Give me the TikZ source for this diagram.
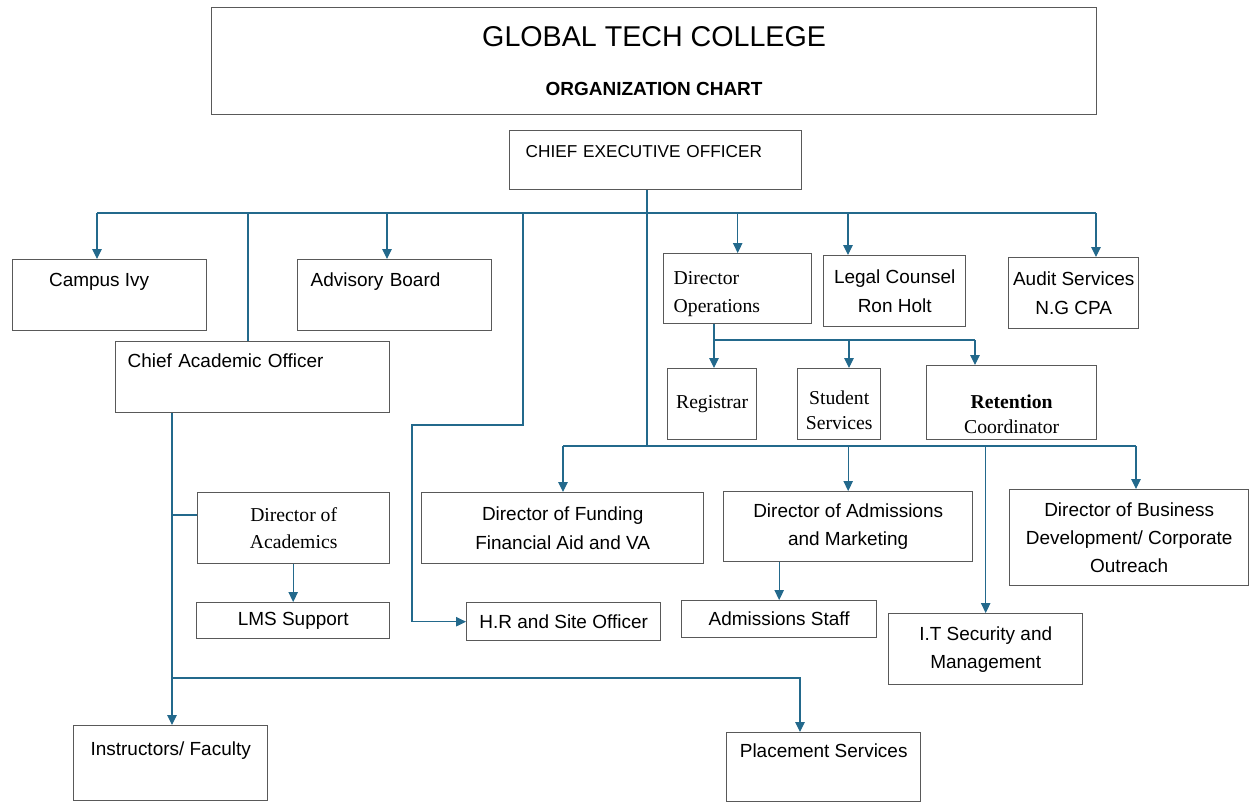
\documentclass[tikz,border=0pt]{standalone}
\usepackage{fontspec}
\setmainfont{Liberation Sans}
\newfontfamily\timesfont{Liberation Serif}
\usetikzlibrary{arrows.meta}

\definecolor{linkblue}{RGB}{35,105,140}

\tikzset{
  box/.style={draw=black!65, line width=0.8pt, rectangle, anchor=north west,
    inner sep=0pt, align=center, font=\fontsize{10.8}{16}\selectfont},
  serifbox/.style={box, font=\timesfont\fontsize{11.2}{15.5}\selectfont},
  link/.style={draw=linkblue, line width=0.6pt},
  arr/.style={link, -{Triangle[length=2mm,width=1.9mm]}},
}

\begin{document}
\begin{tikzpicture}[x=0.02cm,y=-0.02cm]
  \useasboundingbox (0,0) rectangle (1254,802);

  % header
  \node[box, minimum width=17.7cm, minimum height=2.14cm] (title) at (211,7)
    {{\fontsize{16.3}{20}\selectfont GLOBAL TECH COLLEGE}\\[12pt]\textbf{ORGANIZATION CHART}};
  \node[box, minimum width=5.84cm, text width=5.2cm, align=left, text height=0.54cm, text depth=0.64cm,
    font=\fontsize{9.8}{14}\selectfont] (ceo) at (509,130) {CHIEF EXECUTIVE OFFICER};

  % first row
  \node[box, minimum width=3.88cm, text height=0.54cm, text depth=0.88cm] (campus) at (12,259) {Campus Ivy\hspace{12pt}};
  \node[box, minimum width=3.88cm, text width=3.36cm, align=left, text height=0.54cm, text depth=0.88cm] (advisory) at (297,259) {Advisory Board};
  \node[box, minimum width=5.48cm, text width=5.0cm, align=left, text height=0.52cm, text depth=0.9cm] (cao) at (115,341) {Chief Academic Officer};
  \node[serifbox, minimum width=2.96cm, minimum height=1.4cm, text width=2.56cm, align=left] (dirops) at (663,253) {\rule{0pt}{13.5pt}Director\\Operations};
  \node[box, minimum width=2.84cm, minimum height=1.42cm] (legal) at (823,255) {Legal Counsel\\Ron Holt};
  \node[box, minimum width=2.6cm, minimum height=1.42cm] (audit) at (1008,257) {Audit Services\\N.G CPA};

  % under operations
  \node[serifbox, minimum width=1.78cm, minimum height=1.42cm] (registrar) at (667,368) {Registrar};
  \node[serifbox, minimum width=1.66cm, minimum height=1.42cm, font=\timesfont\fontsize{11.2}{14.2}\selectfont] (stusvc) at (797,368) {\rule{0pt}{15pt}Student\\Services};
  \node[serifbox, minimum width=3.4cm, minimum height=1.48cm, font=\timesfont\fontsize{11.2}{14.2}\selectfont] (retention) at (926,365) {\rule{0pt}{21pt}\textbf{Retention}\\Coordinator};

  % second row
  \node[serifbox, minimum width=3.84cm, minimum height=1.42cm] (dirac) at (197,492) {Director of\\Academics};
  \node[box, minimum width=5.64cm, minimum height=1.42cm] (funding) at (421,492) {Director of Funding\\Financial Aid and VA};
  \node[box, minimum width=4.98cm, minimum height=1.4cm] (admdir) at (723,491) {Director of Admissions\\and Marketing};
  \node[box, minimum width=4.78cm, minimum height=1.92cm] (busdev) at (1009,489) {Director of Business\\Development/ Corporate\\Outreach};

  % third row
  \node[box, minimum width=3.86cm, minimum height=0.72cm] (lms) at (196,602) {LMS Support};
  \node[box, minimum width=3.88cm, minimum height=0.76cm] (hr) at (466,602) {H.R and Site Officer};
  \node[box, minimum width=3.9cm, minimum height=0.74cm] (admstaff) at (681,600) {Admissions Staff};
  \node[box, minimum width=3.88cm, minimum height=1.42cm] (itsec) at (888,613) {I.T Security and\\Management};

  % bottom row
  \node[box, minimum width=3.88cm, text height=0.6cm, text depth=0.9cm] (faculty) at (73,725) {Instructors/ Faculty};
  \node[box, minimum width=3.88cm, text height=0.5cm, text depth=0.88cm] (placement) at (726,732) {Placement Services};

  % junctions
  \coordinate (ubl) at (97,213);
  \coordinate (ubr) at (1096,213);
  \coordinate (ubcao) at (248,213);
  \coordinate (ubadv) at (387,213);
  \coordinate (ubhr) at (523,213);
  \coordinate (ublegal) at (848,213);
  \coordinate (hrbend) at (412,425);
  \coordinate (trunk) at (647,446);
  \coordinate (lbl) at (563,446);
  \coordinate (lbr) at (1136,446);
  \coordinate (opsl) at (714,340);
  \coordinate (opsmid) at (849,340);
  \coordinate (opsr) at (975,340);
  \coordinate (acj) at (172,515);
  \coordinate (plj) at (800,678);

  % upper bus
  \draw[link] (ubl) -- (ubr);
  \draw[link] (trunk |- ceo.south) -- (trunk);
  \draw[arr] (ubl) -- (ubl |- campus.north);
  \draw[link] (ubcao) -- (ubcao |- cao.north);
  \draw[arr] (ubadv) -- (ubadv |- advisory.north);
  \draw[arr] (ubhr) |- (hrbend) |- (hr.west);
  \draw[arr] (ubl -| dirops.north) -- (dirops.north);
  \draw[arr] (ublegal) -- (ublegal |- legal.north);
  \draw[arr] (ubr) -- (ubr |- audit.north);

  % operations
  \draw[link] (opsl |- dirops.south) -- (opsl) -- (opsr);
  \draw[arr] (opsl) -- (opsl |- registrar.north);
  \draw[arr] (opsmid) -- (opsmid |- stusvc.north);
  \draw[arr] (opsr) -- (opsr |- retention.north);

  % lower bus
  \draw[link] (lbl) -- (lbr);
  \draw[arr] (lbl) -- (lbl |- funding.north);
  \draw[arr] (lbl -| admdir.north) -- (admdir.north);
  \draw[arr] (lbl -| itsec.north) -- (itsec.north);
  \draw[arr] (lbr) -- (lbr |- busdev.north);
  \draw[arr] (admstaff.north |- admdir.south) -- (admstaff.north);

  % academics
  \draw[arr] (acj |- cao.south) -- (acj |- faculty.north);
  \draw[link] (acj) -- (acj -| dirac.west);
  \draw[arr] (lms.north |- dirac.south) -- (lms.north);
  \draw[arr] (acj |- plj) -- (plj) -- (plj |- placement.north);
\end{tikzpicture}
\end{document}
